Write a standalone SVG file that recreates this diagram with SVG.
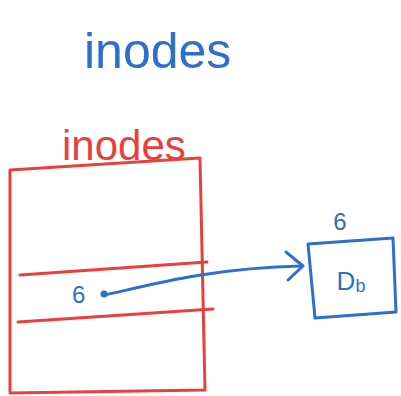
<svg xmlns="http://www.w3.org/2000/svg" width="401" height="396" viewBox="0 0 401 396">
<style>
.red{fill:none;stroke:#e8403c;stroke-width:3;stroke-linecap:round;stroke-linejoin:round}
.blue{fill:none;stroke:#2f6fcc;stroke-width:3;stroke-linecap:round;stroke-linejoin:round}
.tb{fill:#2f6fcc;font-family:"Liberation Sans",sans-serif}
.tr{fill:#e8403c;font-family:"Liberation Sans",sans-serif}
</style>
<rect width="401" height="396" fill="#fff"/>
<text class="tb" x="84" y="68" font-size="50">inodes</text>
<g id="inodes">
<text class="tr" x="62" y="160" font-size="42">inodes</text>
<path class="red" d="M10,170 L200,158 L205,390 L10,393 Z"/>
<path class="red" d="M20,275 L207,262"/>
<path class="red" d="M18,322 L213,309"/>
<text class="tb" x="72" y="303" font-size="24">6</text>
<circle cx="104" cy="294" r="3.5" fill="#2f6fcc"/>
</g>
<g id="Db">
<path class="blue" d="M308,244 L393,238 L396,312 L315,318 Z"/>
<text class="tb" x="351" y="290" font-size="26" text-anchor="middle">D<tspan font-size="18" dy="2">b</tspan></text>
<text class="tb" x="340" y="230" font-size="24" text-anchor="middle">6</text>
</g>
<g id="connectors">
<path class="blue" d="M105,295 C150,285 210,268 302,266"/>
<path class="blue" d="M286,252 L303,266 L288,280"/>
</g>
</svg>
